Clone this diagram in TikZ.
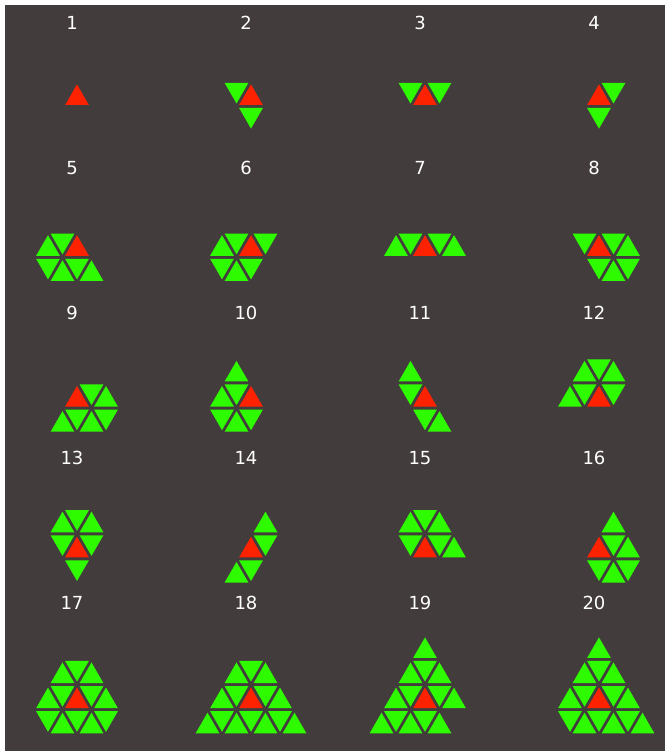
\documentclass[tikz,border=0pt]{standalone}
\usepackage{fontspec}
\setmainfont{DejaVu Sans}
\usepackage{tikz}
\definecolor{slate}{RGB}{67,60,60}
\definecolor{leaf}{RGB}{46,250,0}
\definecolor{ember}{RGB}{255,34,0}

% one cell of the triangle grid: k (half steps), j (row), colour
\newcommand{\tricell}[3]{%
  \pgfmathsetmacro{\cx}{#1*14.5}
  \pgfmathsetmacro{\sg}{1-2*mod(#1+#2+100,2)}
  \pgfmathsetmacro{\cy}{#2*25.11+12.555-\sg*4.185}
  \pgfmathsetmacro{\yb}{\cy-\sg*6.87}
  \pgfmathsetmacro{\ya}{\cy+\sg*13.74}
  \fill[#3] (\cx-11.9,\yb) -- (\cx+11.9,\yb) -- (\cx,\ya) -- cycle;}

% a whole shape: column, row, green cells
\newcommand{\polyform}[3]{%
  \begin{scope}[shift={(77+174*#1,644.5-150.8*#2)}]
    \foreach \k/\j in {#3} {\tricell{\k}{\j}{leaf}}
    \tricell{0}{0}{ember}
  \end{scope}}

\begin{document}
\begin{tikzpicture}[x=0.75pt, y=0.75pt,
        num/.style={text=white, inner sep=0pt, anchor=base, font=\fontsize{13.5}{16}\selectfont}]
    \useasboundingbox (0,0) rectangle (666,751);
    \fill[white] (0,0) rectangle (666,751);
    \fill[slate] (5,0) rectangle (665,746);

    % labels
    \foreach \i in {1,...,20} {
        \pgfmathtruncatemacro{\c}{mod(\i-1,4)}
        \pgfmathtruncatemacro{\r}{(\i-1)/4}
        \node[num] (n\i) at (72+174*\c, 721.7-145*\r) {\i};
    }

    % shapes
    \begin{scope}[shift={(77,644.5)}]
        \tricell{0}{0}{ember}
    \end{scope}
    \polyform{1}{0}{-1/0, 0/-1}
    \polyform{2}{0}{-1/0, 1/0}
    \polyform{3}{0}{1/0, 0/-1}
    \polyform{0}{1}{-2/0, -1/0, -2/-1, -1/-1, 0/-1, 1/-1}
    \polyform{1}{1}{-2/0, -1/0, 1/0, -2/-1, -1/-1, 0/-1}
    \polyform{2}{1}{-2/0, -1/0, 1/0, 2/0}
    \polyform{3}{1}{-1/0, 1/0, 2/0, 0/-1, 1/-1, 2/-1}
    \polyform{0}{2}{1/0, 2/0, -1/-1, 0/-1, 1/-1, 2/-1}
    \polyform{1}{2}{-2/0, -1/0, -1/1, -2/-1, -1/-1, 0/-1}
    \polyform{2}{2}{-1/0, -1/1, 0/-1, 1/-1}
    \polyform{3}{2}{-2/0, -1/0, 1/0, -1/1, 0/1, 1/1}
    \polyform{0}{3}{-1/0, 1/0, -1/1, 0/1, 1/1, 0/-1}
    \polyform{1}{3}{1/0, 1/1, -1/-1, 0/-1}
    \polyform{2}{3}{-1/0, 1/0, 2/0, -1/1, 0/1, 1/1}
    \polyform{3}{3}{1/0, 2/0, 1/1, 0/-1, 1/-1, 2/-1}
    \polyform{0}{4}{-2/0, -1/0, 1/0, 2/0, -1/1, 0/1, 1/1, -2/-1, -1/-1, 0/-1, 1/-1, 2/-1}
    \polyform{1}{4}{-2/0, -1/0, 1/0, 2/0, -1/1, 0/1, 1/1, -3/-1, -2/-1, -1/-1, 0/-1, 1/-1, 2/-1, 3/-1}
    \polyform{2}{4}{-2/0, -1/0, 1/0, 2/0, -1/1, 0/1, 1/1, 0/2, -3/-1, -2/-1, -1/-1, 0/-1, 1/-1}
    \polyform{3}{4}{-2/0, -1/0, 1/0, 2/0, -1/1, 0/1, 1/1, 0/2, -2/-1, -1/-1, 0/-1, 1/-1, 2/-1, 3/-1}
\end{tikzpicture}
\end{document}
